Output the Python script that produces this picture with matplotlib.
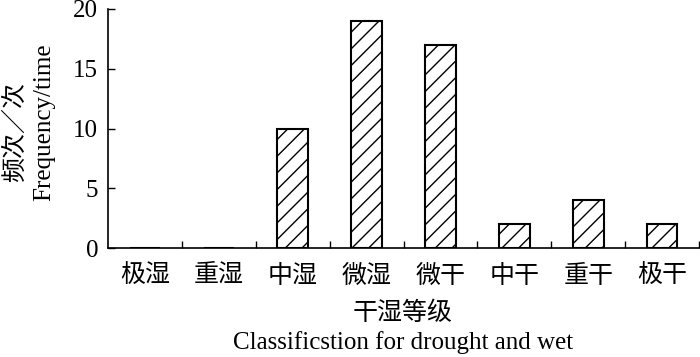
import matplotlib.pyplot as plt
import numpy as np

plt.rcParams['font.family'] = ['Liberation Serif', 'Noto Sans CJK SC']
plt.rcParams['hatch.linewidth'] = 1.0

# data
grades = ['极湿', '重湿', '中湿', '微湿', '微干', '中干', '重干', '极干']
counts = [0, 0, 10, 19, 17, 2, 4, 2]

W, H = 700, 357
fig = plt.figure(figsize=(W / 100, H / 100), dpi=100)
ax = fig.add_axes([0.154, 0.305, 0.845, 0.67])

x = np.arange(len(grades))
ax.bar(x, counts, width=0.41, color='white', edgecolor='black',
       linewidth=1.5, hatch='//')

ax.set_xlim(-0.5, len(grades) - 0.5)
ax.set_ylim(0, 20)
ax.set_yticks([0, 5, 10, 15, 20])
ax.set_xticks(x)
ax.set_xticklabels(grades, fontsize=18)
ax.set_xticks(np.arange(0.5, len(grades)), minor=True)

ax.tick_params(axis='x', which='major', length=0, pad=12)
ax.tick_params(axis='x', which='minor', direction='in', length=5, width=1)
ax.tick_params(axis='y', direction='in', length=5, width=1, labelsize=18, pad=7)

for s in ['top', 'right']:
    ax.spines[s].set_visible(False)
for s in ['left', 'bottom']:
    ax.spines[s].set_linewidth(1.2)

# axis titles (two lines each, Chinese + English)
fig.text(403 / W, 1 - 313 / H, '干湿等级', fontsize=18, ha='center', va='center')
fig.text(403 / W, 1 - 343 / H, 'Classificstion for drought and wet', fontsize=18,
         ha='center', va='center')
fig.text(15 / W, 1 - 132 / H, '频次／次', fontsize=18, rotation=90,
         ha='center', va='center')
fig.text(44 / W, 1 - 122 / H, 'Frequency/time', fontsize=18, rotation=90,
         ha='center', va='center')

fig.savefig('out.png', dpi=100)
